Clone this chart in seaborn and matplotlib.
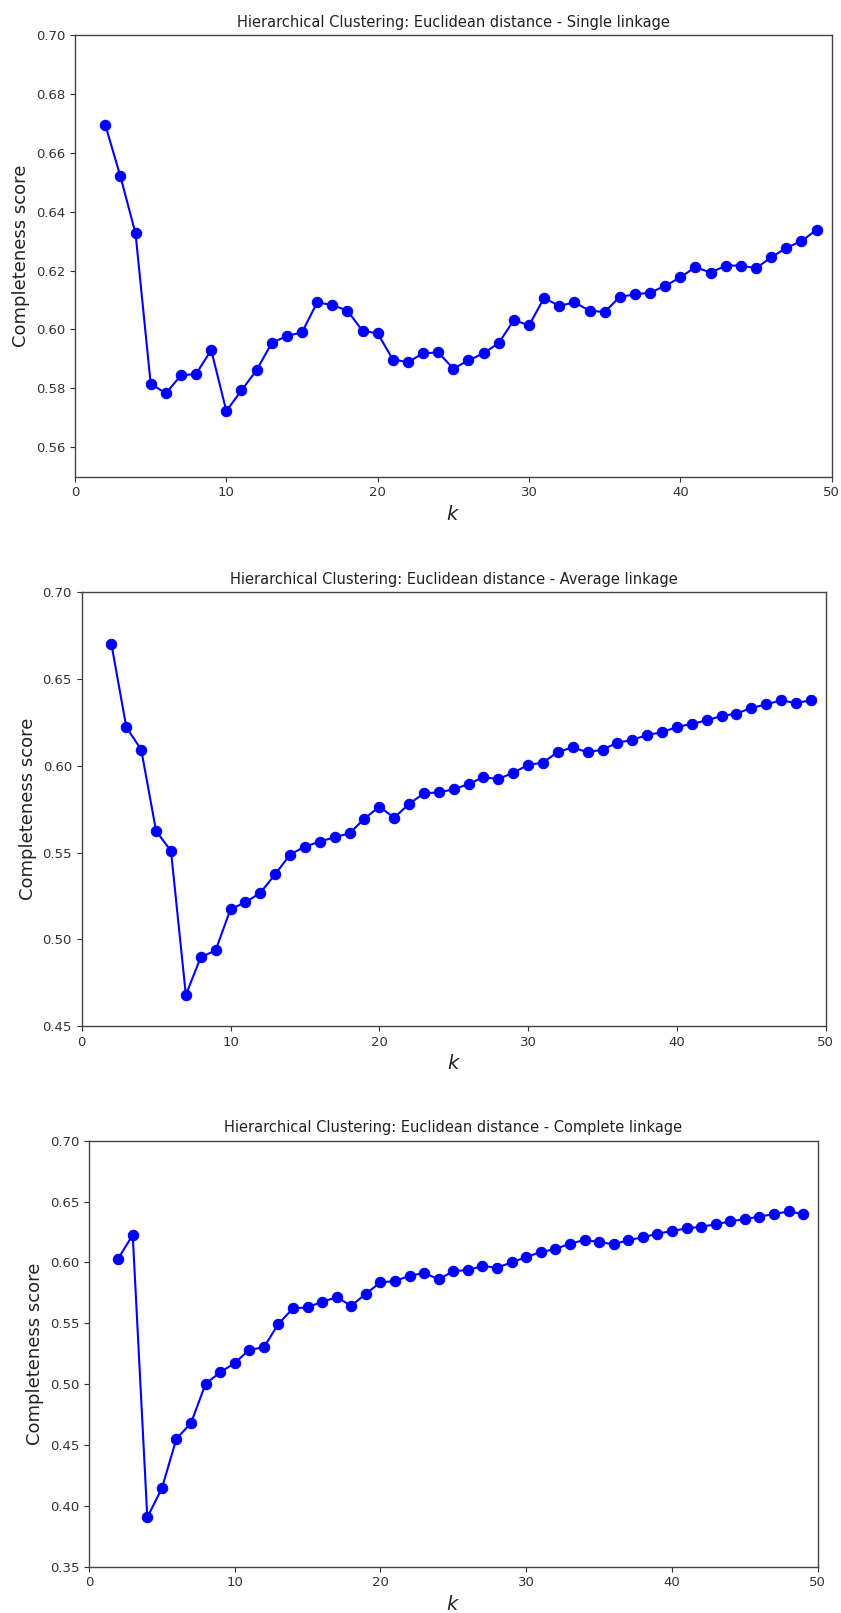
import numpy as np
import pandas as pd
import matplotlib
matplotlib.use("Agg")
import matplotlib.pyplot as plt
import seaborn as sns

k_values = list(range(2, 50))

single_scores = [0.6695, 0.6520, 0.6326, 0.5816, 0.5783, 0.5844, 0.5849, 0.5930,
                 0.5723, 0.5793, 0.5862, 0.5954, 0.5978, 0.5990, 0.6092, 0.6083,
                 0.6064, 0.5995, 0.5987, 0.5898, 0.5889, 0.5919, 0.5922, 0.5867,
                 0.5895, 0.5919, 0.5954, 0.6032, 0.6014, 0.6107, 0.6080, 0.6092,
                 0.6064, 0.6059, 0.6111, 0.6119, 0.6125, 0.6148, 0.6177, 0.6212,
                 0.6193, 0.6217, 0.6217, 0.6208, 0.6245, 0.6277, 0.6300, 0.6338]

average_scores = [0.6700, 0.6222, 0.6093, 0.5624, 0.5509, 0.4679, 0.4896, 0.4936,
                  0.5173, 0.5213, 0.5267, 0.5374, 0.5488, 0.5534, 0.5563, 0.5588,
                  0.5611, 0.5695, 0.5764, 0.5701, 0.5780, 0.5841, 0.5847, 0.5864,
                  0.5895, 0.5934, 0.5924, 0.5960, 0.6005, 0.6018, 0.6080, 0.6106,
                  0.6078, 0.6093, 0.6133, 0.6149, 0.6178, 0.6193, 0.6224, 0.6241,
                  0.6262, 0.6287, 0.6301, 0.6333, 0.6354, 0.6377, 0.6362, 0.6377]

complete_scores = [0.6031, 0.6225, 0.3905, 0.4144, 0.4552, 0.4680, 0.5003, 0.5097,
                   0.5173, 0.5283, 0.5302, 0.5496, 0.5622, 0.5631, 0.5677, 0.5713,
                   0.5644, 0.5743, 0.5836, 0.5847, 0.5891, 0.5913, 0.5861, 0.5929,
                   0.5937, 0.5970, 0.5957, 0.6000, 0.6044, 0.6085, 0.6110, 0.6154,
                   0.6184, 0.6168, 0.6148, 0.6184, 0.6206, 0.6236, 0.6258, 0.6280,
                   0.6293, 0.6313, 0.6337, 0.6356, 0.6376, 0.6397, 0.6419, 0.6397]

titles = ["Hierarchical Clustering: Euclidean distance - Single linkage",
          "Hierarchical Clustering: Euclidean distance - Average linkage",
          "Hierarchical Clustering: Euclidean distance - Complete linkage"]
ylims = [(0.55, 0.70), (0.45, 0.70), (0.35, 0.70)]
yticks = [np.round(np.arange(0.55, 0.7001, 0.02), 2).tolist() + [0.70],
          [0.45, 0.50, 0.55, 0.60, 0.65, 0.70],
          [0.35, 0.40, 0.45, 0.50, 0.55, 0.60, 0.65, 0.70]]
yticks[0] = [0.56, 0.58, 0.60, 0.62, 0.64, 0.66, 0.68, 0.70]

sns.set_style("ticks")
plt.rcParams['font.family'] = ['DejaVu Sans']

W, H = 841, 1613
fig = plt.figure(figsize=(W / 100, H / 100), dpi=100)

# axes boxes in pixels: left, right, top, bottom
boxes = [(75, 831.7, 35, 476.7), (81.7, 825.7, 592.3, 1026), (89, 817.7, 1140.7, 1566.7)]

for (l, r, t, b), title, scores, ylim, yt in zip(boxes, titles,
                                                  [single_scores, average_scores, complete_scores],
                                                  ylims, yticks):
    ax = fig.add_axes([l / W, 1 - b / H, (r - l) / W, (b - t) / H])
    df = pd.DataFrame({"k": k_values, "score": scores})
    sns.lineplot(data=df, x="k", y="score", ax=ax, color="blue", marker="o",
                 markersize=7.5, markeredgecolor="blue", linewidth=1.5)
    ax.set_xlim(0, 50)
    ax.set_ylim(*ylim)
    ax.set_xticks([0, 10, 20, 30, 40, 50])
    ax.set_yticks(yt)
    ax.set_yticklabels([f"{v:.2f}" for v in yt])
    ax.tick_params(labelsize=9.5, colors="#333333", length=3.5)
    for s in ax.spines.values():
        s.set_color("#444444")
        s.set_linewidth(1.0)
    ax.set_title(title, fontsize=10.5, color="#222222")
    ax.set_xlabel("$k$", fontsize=14, color="#222222")
    ax.set_ylabel("Completeness score", fontsize=13, color="#222222")

fig.savefig("out.png", dpi=100, facecolor="white")
